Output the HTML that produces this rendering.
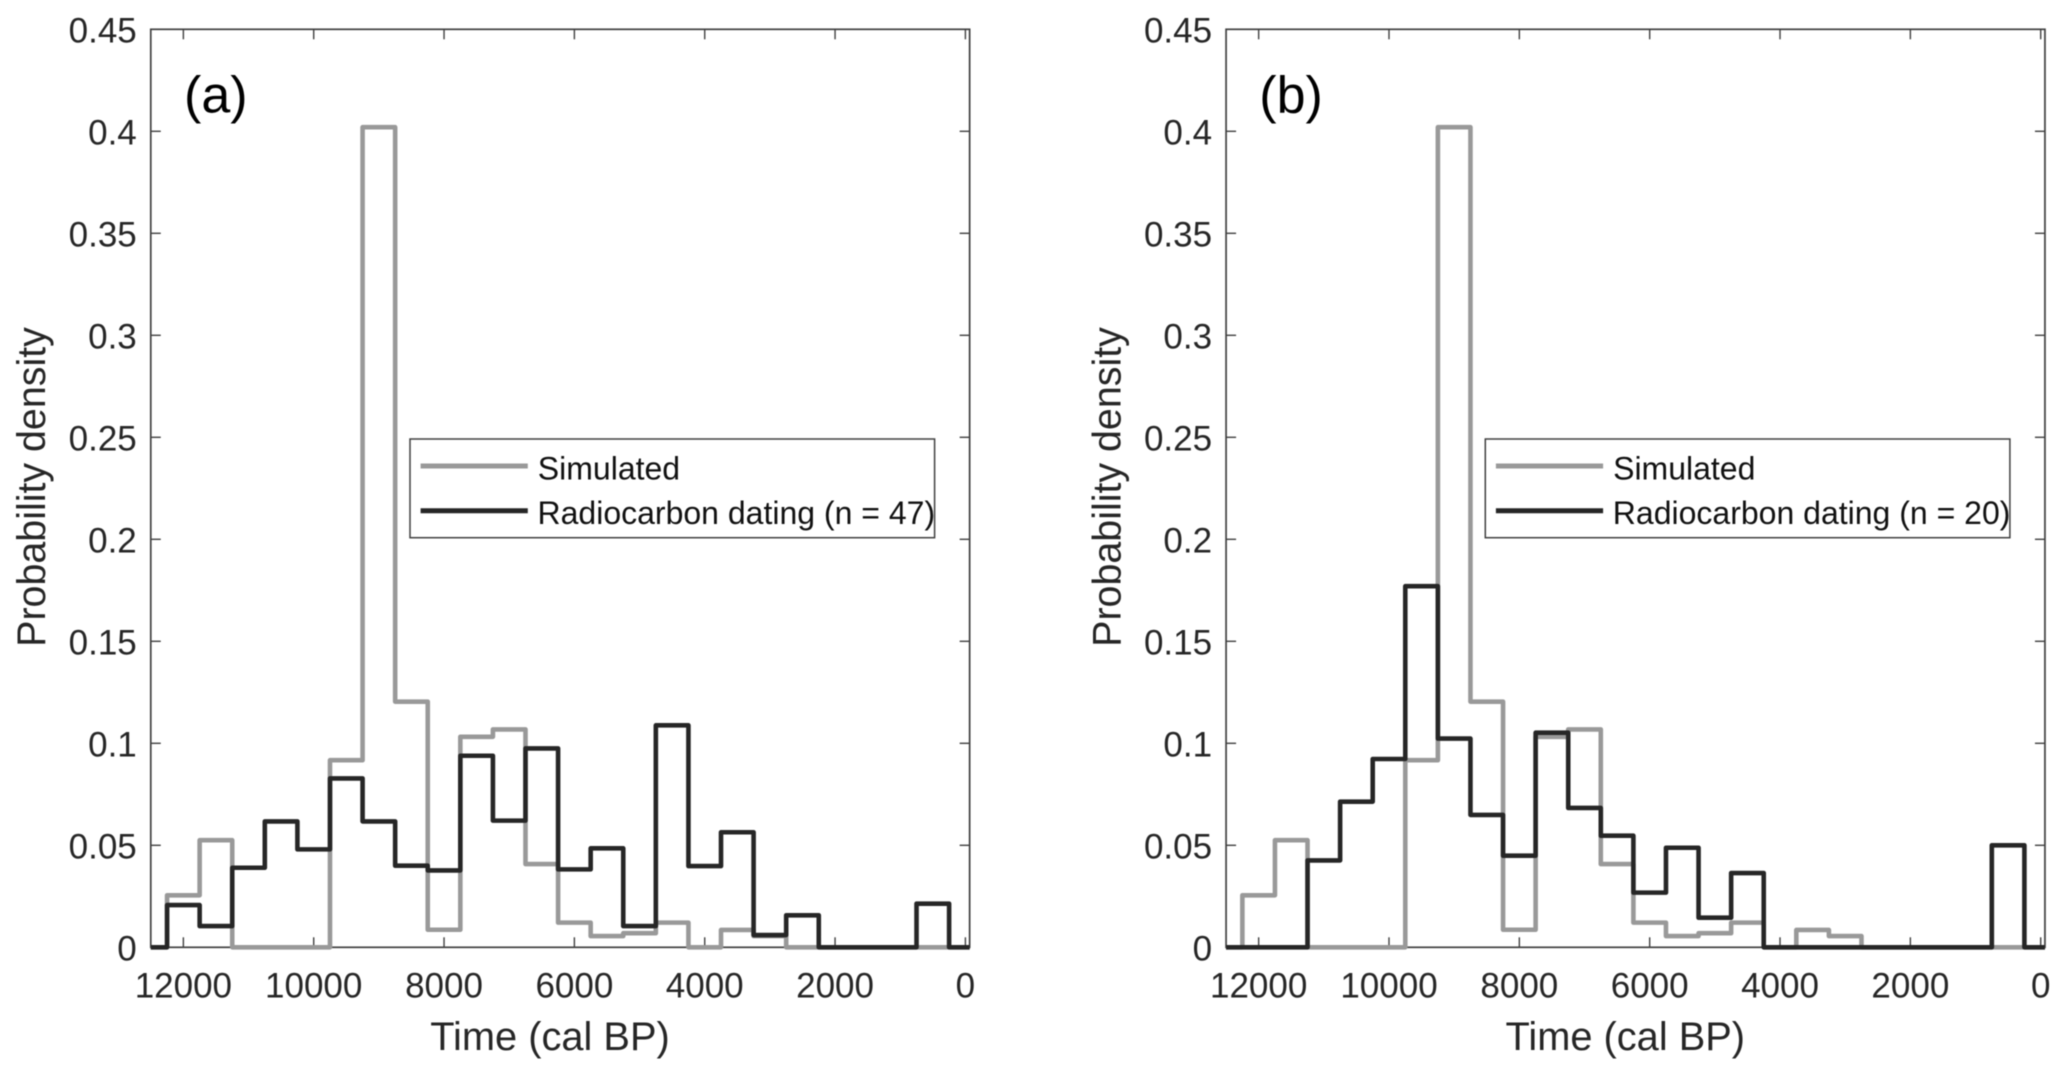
<!DOCTYPE html>
<html lang="en">
<head>
<meta charset="utf-8">
<title>Probability density histograms</title>
<style>
html,body{margin:0;padding:0;background:#fff;width:2067px;height:1077px;overflow:hidden}
svg{display:block;filter:blur(0.5px)}
text{font-family:"Liberation Sans",Arial,sans-serif}
</style>
</head>
<body>
<svg id="chart" xmlns="http://www.w3.org/2000/svg" width="2067" height="1077" viewBox="0 0 2067 1077"></svg>
<script>
const binCenters = [12500,12000,11500,11000,10500,10000,9500,9000,8500,8000,7500,7000,6500,6000,5500,5000,4500,4000,3500,3000,2500,2000,1500,1000,500,0];
const simulated = [0,0.0255,0.0525,0,0,0,0.0917,0.402,0.1204,0.0086,0.1032,0.1068,0.0408,0.0121,0.0055,0.0069,0.0121,0,0.0085,0.0055,0,0,0,0,0,0];
const radiocarbonA = [0,0.0207,0.0104,0.039,0.0617,0.048,0.0828,0.0617,0.04,0.0377,0.0939,0.0621,0.0975,0.0382,0.0485,0.0104,0.1088,0.0398,0.0564,0.006,0.0157,0,0,0,0.0214,0];
const radiocarbonB = [0,0,0,0.0426,0.0714,0.0923,0.177,0.1023,0.0649,0.0449,0.1052,0.0683,0.0547,0.0268,0.0488,0.0145,0.0364,0,0,0,0,0,0,0,0.05,0];
const yTickValues = [0,0.05,0.1,0.15,0.2,0.25,0.3,0.35,0.4,0.45];
const yTickLabels = ["0","0.05","0.1","0.15","0.2","0.25","0.3","0.35","0.4","0.45"];
const xTickValues = [12000,10000,8000,6000,4000,2000,0];
const xTickLabels = ["12000","10000","8000","6000","4000","2000","0"];

const NS = 'http://www.w3.org/2000/svg';
const svg = document.getElementById('chart');
const BIN = 500, X_MAX = 12500, X_MIN = -65, PX_PER_YEAR = 0.06517;
const Y0 = 947.3, PX_PER_UNIT = 2040;
const AXIS = '#404040', INK = '#262626';

function make(tag, attrs, parent, content) {
  const el = document.createElementNS(NS, tag);
  for (const k in attrs) el.setAttribute(k, attrs[k]);
  if (content !== undefined) el.textContent = content;
  parent.appendChild(el);
  return el;
}
function yScale(v) { return Y0 - v * PX_PER_UNIT; }

function stepPath(values, xScale) {
  let d = 'M' + xScale(X_MAX).toFixed(2) + ' ' + yScale(values[0]).toFixed(2);
  binCenters.forEach(function (c, i) {
    const right = Math.max(c - BIN / 2, X_MIN);
    const y = yScale(values[i]).toFixed(2);
    d += 'L' + (i === 0 ? xScale(X_MAX).toFixed(2) : xScale(c + BIN / 2).toFixed(2)) + ' ' + y;
    d += 'L' + xScale(right).toFixed(2) + ' ' + y;
  });
  return d;
}

function drawPanel(id, x0, values, panelLabel, radiocarbonLabel) {
  const dx = x0 - 965.4;
  const xScale = function (t) { return x0 - t * PX_PER_YEAR; };
  const left = xScale(X_MAX), right = xScale(X_MIN), top = yScale(0.45), bottom = yScale(0);

  const g = make('g', {}, svg);
  
  

  const frame = make('rect', {x: left, y: top, width: right - left, height: bottom - top, fill: 'none', stroke: AXIS, 'stroke-width': 1.7}, g);
  
  

  yTickValues.forEach(function (v, i) {
    const y = yScale(v);
    const t1 = make('line', {x1: left, x2: left + 10, y1: y, y2: y, stroke: AXIS, 'stroke-width': 1.4}, g);
    
    
    const t2 = make('line', {x1: right, x2: right - 10, y1: y, y2: y, stroke: AXIS, 'stroke-width': 1.4}, g);
    
    
    const lab = make('text', {x: left - 14, y: y + 13.2, 'text-anchor': 'end', 'font-size': 35, fill: INK}, g, yTickLabels[i]);
    
    
  });

  xTickValues.forEach(function (t, i) {
    const x = xScale(t);
    const t1 = make('line', {x1: x, x2: x, y1: bottom, y2: bottom - 10, stroke: AXIS, 'stroke-width': 1.4}, g);
    
    
    const t2 = make('line', {x1: x, x2: x, y1: top, y2: top + 10, stroke: AXIS, 'stroke-width': 1.4}, g);
    
    
    const lab = make('text', {x: x, y: 997.5, 'text-anchor': 'middle', 'font-size': 35, fill: INK}, g, xTickLabels[i]);
    
    
  });

  const simLine = make('path', {d: stepPath(simulated, xScale), fill: 'none', stroke: '#999999', 'stroke-width': 4.6, 'stroke-linejoin': 'round'}, g);
  
  

  const rcLine = make('path', {d: stepPath(values, xScale), fill: 'none', stroke: '#262626', 'stroke-width': 4.6, 'stroke-linejoin': 'round'}, g);
  
  

  const xTitle = make('text', {x: 550 + dx, y: 1050, 'text-anchor': 'middle', 'font-size': 39.8, fill: INK}, g, 'Time (cal BP)');
  
  

  const yTitle = make('text', {transform: 'translate(' + (45 + dx) + ' 487) rotate(-90)', 'text-anchor': 'middle', 'font-size': 39.4, fill: INK}, g, 'Probability density');
  
  

  const tag = make('text', {x: 184 + dx, y: 112.5, 'font-size': 52, fill: '#000'}, g, panelLabel);
  
  

  const legend = make('g', {}, g);
  
  

  const box = make('rect', {x: 410 + dx, y: 439, width: 524.6, height: 98.7, fill: '#fff', stroke: AXIS, 'stroke-width': 1.5}, legend);
  
  

  const k1 = make('line', {x1: 420.6 + dx, x2: 527.8 + dx, y1: 466, y2: 466, stroke: '#999999', 'stroke-width': 5}, legend);
  
  

  const k2 = make('line', {x1: 420.6 + dx, x2: 527.8 + dx, y1: 510.7, y2: 510.7, stroke: '#262626', 'stroke-width': 5}, legend);
  
  

  const l1 = make('text', {x: 537.8 + dx, y: 479.3, 'font-size': 32, fill: '#111'}, legend, 'Simulated');
  
  

  const l2 = make('text', {x: 537.5 + dx, y: 524, 'font-size': 32, fill: '#111'}, legend, radiocarbonLabel);
  
  
}

drawPanel('a', 965.4, radiocarbonA, '(a)', 'Radiocarbon dating (n = 47)');
drawPanel('b', 2040.7, radiocarbonB, '(b)', 'Radiocarbon dating (n = 20)');
</script>
</body>
</html>
